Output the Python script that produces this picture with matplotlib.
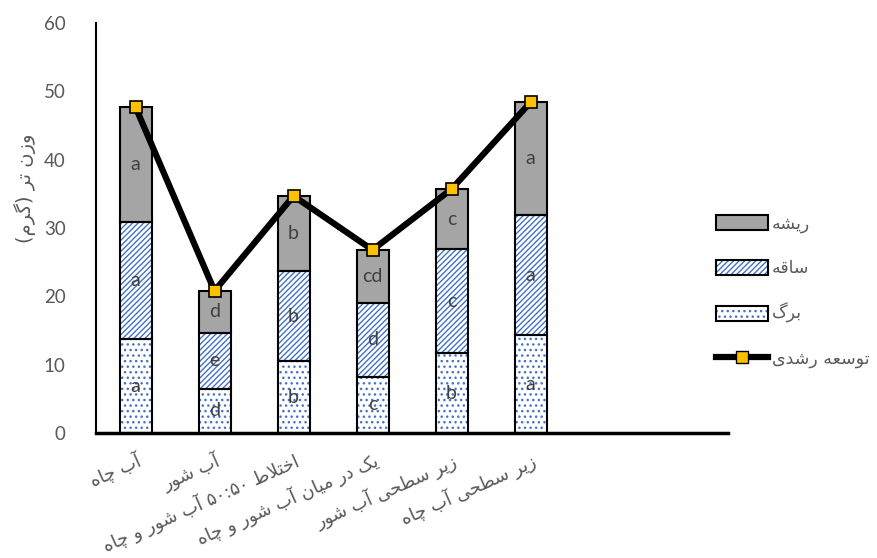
import re
import numpy as np
import matplotlib
matplotlib.use("Agg")
import matplotlib.pyplot as plt
from matplotlib.patches import Patch
from matplotlib.lines import Line2D

plt.rcParams['font.family'] = ['Lato', 'DejaVu Sans']
plt.rcParams['hatch.linewidth'] = 1.0

# data
categories = ["آب چاه", "آب شور", "اختلاط ۵۰:۵۰ آب شور و چاه",
              "یک در میان آب شور و چاه", "زیر سطحی آب شور", "زیر سطحی آب چاه"]
leaf = [13.7, 6.5, 10.5, 8.2, 11.7, 14.3]
stem = [17.2, 8.2, 13.2, 10.9, 15.2, 17.6]
root = [16.8, 6.1, 11.0, 7.7, 8.8, 16.5]
growth = [47.7, 20.8, 34.7, 26.8, 35.7, 48.4]
leaf_letters = ["a", "d", "b", "c", "b", "a"]
stem_letters = ["a", "e", "b", "d", "c", "a"]
root_letters = ["a", "d", "b", "cd", "c", "a"]
series_names = ["ریشه", "ساقه", "برگ", "توسعه رشدی"]
ylabel = "وزن تر (گرم)"


# matplotlib has no arabic shaping, so pick presentation forms by hand
FORMS = {
    'ا': '\uFE8D\uFE8E', 'آ': '\uFE81\uFE82',
    'ب': '\uFE8F\uFE90\uFE91\uFE92', 'ت': '\uFE95\uFE96\uFE97\uFE98',
    'ح': '\uFEA1\uFEA2\uFEA3\uFEA4', 'خ': '\uFEA5\uFEA6\uFEA7\uFEA8',
    'د': '\uFEA9\uFEAA', 'ر': '\uFEAD\uFEAE', 'ز': '\uFEAF\uFEB0',
    'س': '\uFEB1\uFEB2\uFEB3\uFEB4', 'ش': '\uFEB5\uFEB6\uFEB7\uFEB8',
    'ط': '\uFEC1\uFEC2\uFEC3\uFEC4', 'ع': '\uFEC9\uFECA\uFECB\uFECC',
    'ق': '\uFED5\uFED6\uFED7\uFED8', 'ل': '\uFEDD\uFEDE\uFEDF\uFEE0',
    'م': '\uFEE1\uFEE2\uFEE3\uFEE4', 'ن': '\uFEE5\uFEE6\uFEE7\uFEE8',
    'ه': '\uFEE9\uFEEA\uFEEB\uFEEC', 'و': '\uFEED\uFEEE',
    'چ': '\uFB7A\uFB7B\uFB7C\uFB7D', 'ک': '\uFB8E\uFB8F\uFB90\uFB91',
    'گ': '\uFB92\uFB93\uFB94\uFB95', 'ی': '\uFBFC\uFBFD\uFBFE\uFBFF',
}


def fa(s):
    chars = list(s)
    out = []
    i = 0
    while i < len(chars):
        c = chars[i]
        if c not in FORMS:
            out.append(c)
            i += 1
            continue
        prev = chars[i - 1] if i > 0 else ''
        joins_prev = prev in FORMS and len(FORMS[prev]) == 4
        # lam + alef ligature
        if c == 'ل' and i + 1 < len(chars) and chars[i + 1] == 'ا':
            out.append('\uFEFC' if joins_prev else '\uFEFB')
            i += 2
            continue
        nxt = chars[i + 1] if i + 1 < len(chars) else ''
        joins_next = len(FORMS[c]) == 4 and nxt in FORMS
        f = FORMS[c]
        if joins_prev and joins_next:
            out.append(f[3])
        elif joins_prev:
            out.append(f[1])
        elif joins_next:
            out.append(f[2])
        else:
            out.append(f[0])
        i += 1
    shaped = ''.join(out)
    parts = re.findall(r'[\u06F0-\u06F90-9]+(?::[\u06F0-\u06F90-9]+)*|.', shaped)
    vis = []
    for p in reversed(parts):
        if len(p) == 1:
            p = {'(': ')', ')': '('}.get(p, p)
        vis.append(p)
    return ''.join(vis)


blue = '#4472C4'
gray = '#A5A5A5'
txt = '#595959'

fig = plt.figure(figsize=(8.77, 5.58), dpi=100)
ax = fig.add_axes([0.1095, 0.224, 0.7206, 0.7346])

x = np.arange(len(categories))
w = 0.405
leaf = np.array(leaf)
stem = np.array(stem)
root = np.array(root)

# hatches drawn in blue, then outlines in black
ax.bar(x, leaf, w, color='white', edgecolor=blue, hatch='...', linewidth=0)
ax.bar(x, stem, w, bottom=leaf, color='white', edgecolor=blue, hatch='//////', linewidth=0)
ax.bar(x, root, w, bottom=leaf + stem, color=gray, linewidth=0)
ax.bar(x, leaf, w, fill=False, edgecolor='black', linewidth=1.5)
ax.bar(x, stem, w, bottom=leaf, fill=False, edgecolor='black', linewidth=1.5)
ax.bar(x, root, w, bottom=leaf + stem, fill=False, edgecolor='black', linewidth=1.5)

ax.plot(x, growth, color='black', lw=4.5, marker='s', ms=9,
        mfc='#FFC000', mec='black', mew=1.2, zorder=5)

for i in range(len(x)):
    ax.text(x[i], leaf[i] / 2, leaf_letters[i], ha='center', va='center', fontsize=14, color='#404040')
    ax.text(x[i], leaf[i] + stem[i] / 2, stem_letters[i], ha='center', va='center', fontsize=14, color='#404040')
    ax.text(x[i], leaf[i] + stem[i] + root[i] / 2, root_letters[i], ha='center', va='center', fontsize=14, color='#404040')

ax.set_xlim(-0.5, 7.5)
ax.set_ylim(0, 60)
ax.set_yticks(range(0, 61, 10))
ax.tick_params(axis='y', length=0, pad=22, labelsize=13.5, labelcolor=txt)
ax.set_xticks(x)
ax.set_xticklabels([fa(c) for c in categories], rotation=24, ha='right',
                   rotation_mode='anchor', fontsize=13, color=txt,
                   family=['DejaVu Sans'])
ax.tick_params(axis='x', length=0, pad=12)
for s in ['top', 'right']:
    ax.spines[s].set_visible(False)
ax.spines['left'].set_linewidth(1.5)
ax.spines['bottom'].set_linewidth(2.5)

ax.set_ylabel(fa(ylabel), fontsize=14, color=txt, family=['DejaVu Sans'])
ax.yaxis.set_label_coords(-0.095, 0.598)

handles = [
    (Patch(facecolor=gray, linewidth=0), Patch(fill=False, edgecolor='black', linewidth=1.5)),
    (Patch(facecolor='white', edgecolor=blue, hatch='//////', linewidth=0),
     Patch(fill=False, edgecolor='black', linewidth=1.5)),
    (Patch(facecolor='white', edgecolor=blue, hatch='...', linewidth=0),
     Patch(fill=False, edgecolor='black', linewidth=1.5)),
    Line2D([], [], color='black', lw=4.5, marker='s', ms=9, mfc='#FFC000', mec='black'),
]
leg = fig.legend(handles, [fa(n) for n in series_names], loc='center left',
                 bbox_to_anchor=(0.808, 0.478), frameon=False, borderaxespad=0,
                 labelspacing=1.5, handlelength=3.0, handleheight=0.95, handletextpad=0.25,
                 prop={'family': ['DejaVu Sans'], 'size': 12.5})
for t in leg.get_texts():
    t.set_color(txt)

fig.savefig('out.png', dpi=100)
